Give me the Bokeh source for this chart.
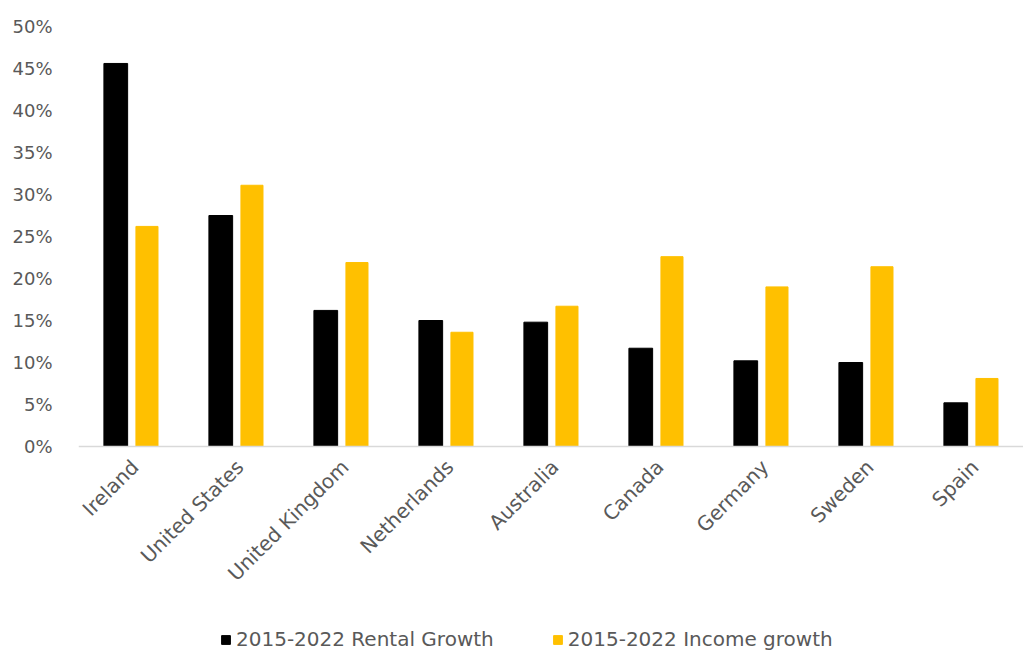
import math
from bokeh.plotting import figure
from bokeh.models import (ColumnDataSource, FactorRange, Range1d, NumeralTickFormatter, Legend,
                          LegendItem, FixedTicker, Span)
from bokeh.core.properties import value
from bokeh.transform import dodge
from bokeh.embed import file_html
from bokeh.resources import INLINE

countries = ["Ireland", "United States", "United Kingdom", "Netherlands", "Australia",
             "Canada", "Germany", "Sweden", "Spain"]
rental_growth = [0.456, 0.275, 0.162, 0.150, 0.148, 0.117, 0.102, 0.100, 0.052]
income_growth = [0.262, 0.311, 0.219, 0.136, 0.167, 0.226, 0.190, 0.214, 0.081]
y_ticks = [0, 0.05, 0.10, 0.15, 0.20, 0.25, 0.30, 0.35, 0.40, 0.45, 0.50]

src = ColumnDataSource(dict(country=countries, rental=rental_growth, income=income_growth))

# frame spans from the 50% line down to the page bottom; value 0 sits 420 px below 50%
p = figure(width=1023, height=651, output_backend="svg", toolbar_location=None,
           x_range=FactorRange(factors=countries, start=0, end=8.915, range_padding=0),
           y_range=Range1d(-0.5 * 205 / 420, 0.5))
p.min_border_left = 78
p.min_border_right = 0
p.min_border_top = 26
p.min_border_bottom = 0
p.outline_line_color = None
p.xgrid.visible = False
p.ygrid.visible = False
p.xaxis.visible = False

p.add_layout(Span(location=0, dimension="width", line_color="#d9d9d9", line_width=1.5))

r1 = p.vbar(x=dodge("country", -0.145, range=p.x_range), top="rental", width=0.226,
            source=src, color="#000000")
r2 = p.vbar(x=dodge("country", 0.152, range=p.x_range), top="income", width=0.21,
            source=src, color="#FFC000")

p.text(x="country", y=0, text="country", source=src, angle=math.pi / 4,
       text_align="right", text_baseline="middle", x_offset=4, y_offset=17,
       text_font=value("DejaVu Sans"), text_font_size="20px", text_color="#595959")

p.yaxis.ticker = FixedTicker(ticks=y_ticks)
p.yaxis.formatter = NumeralTickFormatter(format="0%")
p.yaxis.axis_line_color = None
p.yaxis.major_tick_line_color = None
p.yaxis.minor_tick_line_color = None
p.yaxis.major_label_standoff = 20
p.yaxis.major_label_text_font = "DejaVu Sans"
p.yaxis.major_label_text_font_size = "18px"
p.yaxis.major_label_text_color = "#595959"

legend = Legend(items=[LegendItem(label="2015-2022 Rental Growth", renderers=[r1]),
                       LegendItem(label="2015-2022 Income growth", renderers=[r2])],
                orientation="horizontal", location=(142, 0))
legend.label_text_font = "DejaVu Sans"
legend.label_text_font_size = "20px"
legend.label_text_color = "#595959"
legend.glyph_width = 11
legend.glyph_height = 11
legend.label_standoff = 5
legend.spacing = 58
legend.border_line_color = None
legend.background_fill_alpha = 0
legend.margin = 0
legend.padding = 2
p.add_layout(legend, "center")

open("out.html", "w").write(file_html(p, INLINE))
